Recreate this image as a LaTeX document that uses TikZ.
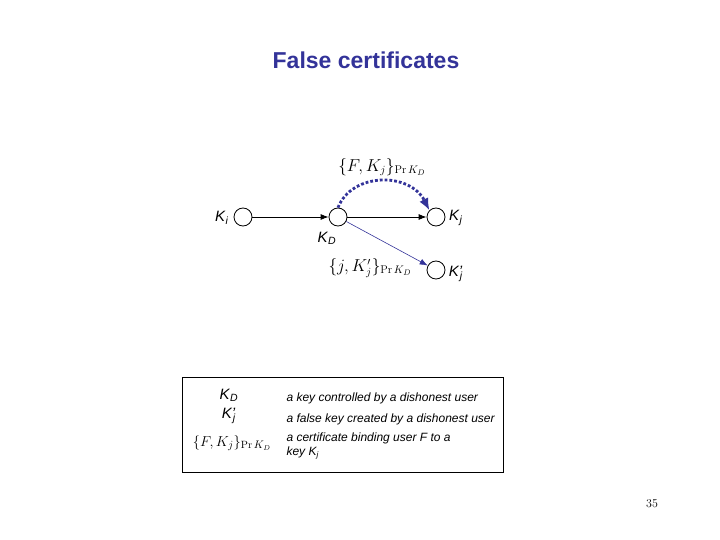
\documentclass[tikz,border=0pt]{standalone}
\usepackage{fontspec}
\setsansfont{Liberation Sans}
\usetikzlibrary{arrows.meta}
\definecolor{tblue}{RGB}{51,51,153}
\newcommand{\sk}[2]{\textit{#1}\textsubscript{\textit{#2}}}
\newcommand{\skp}{\textit{K'}\kern-2.5pt\textsubscript{\textit{j}}}
\begin{document}
\begin{tikzpicture}[x=1pt,y=-1pt,
  keyc/.style={circle,draw,thick,minimum size=18pt,inner sep=0pt},
  lab/.style={font=\sffamily\fontsize{15}{16}\selectfont},
  leg/.style={font=\sffamily\itshape\fontsize{12}{14}\selectfont,anchor=west,align=left},
  arr/.style={-{Latex[length=8pt,width=6pt]},thick}]
\useasboundingbox (0,0) rectangle (720,540);
\node[font=\sffamily\bfseries\fontsize{23}{25}\selectfont,text=tblue] (title) at (366,60) {False certificates};
\node[keyc] (ki) at (243,217) {};
\node[keyc] (kd) at (338,217) {};
\node[keyc] (kj) at (436,217) {};
\node[keyc] (kjp) at (436,270) {};
\node[lab] (lki) at (222,218) {\sk{K}{i}};
\node[lab] (lkd) at (327,238) {\sk{K}{D}};
\node[lab] (lkj) at (456,218) {\sk{K}{j}};
\node[lab] (lkjp) at (456,274) {\skp};
\draw[arr] (ki) -- (kd);
\draw[arr] (kd) -- (kj);
\draw[-{Latex[length=8pt,width=6pt]},tblue,semithick] (kd) -- (kjp);
\draw[tblue,line width=2.8pt,dotted,-{Latex[length=12pt,width=10pt]}] (kd.north) .. controls (352,172) and (410,172) .. (kj.north west);
\node[font=\fontsize{16}{18}\selectfont] (c1) at (382,167) {$\{F,K_j\}_{\mathrm{Pr}\,K_D}$};
\node[font=\fontsize{16}{18}\selectfont] (c2) at (370,268) {$\{j,K'_j\}_{\mathrm{Pr}\,K_D}$};
\draw (182,377) rectangle (503,472);
\node[lab] (l1) at (229,395) {\sk{K}{D}};
\node[lab] (l2) at (229,416) {\skp};
\node[font=\fontsize{15}{16}\selectfont] (l3) at (232,443) {$\{F,K_j\}_{\mathrm{Pr}\,K_D}$};
\node[leg] (t1) at (283,398) {a key controlled by a dishonest user};
\node[leg] (t2) at (283,419) {a false key created by a dishonest user};
\node[leg] (t3) at (283,446) {a certificate binding user F to a\\key \textit{K}\textsubscript{\textit{j}}};
\node[font=\fontsize{12}{14}\selectfont] (pg) at (652,504) {35};
\end{tikzpicture}
\end{document}
